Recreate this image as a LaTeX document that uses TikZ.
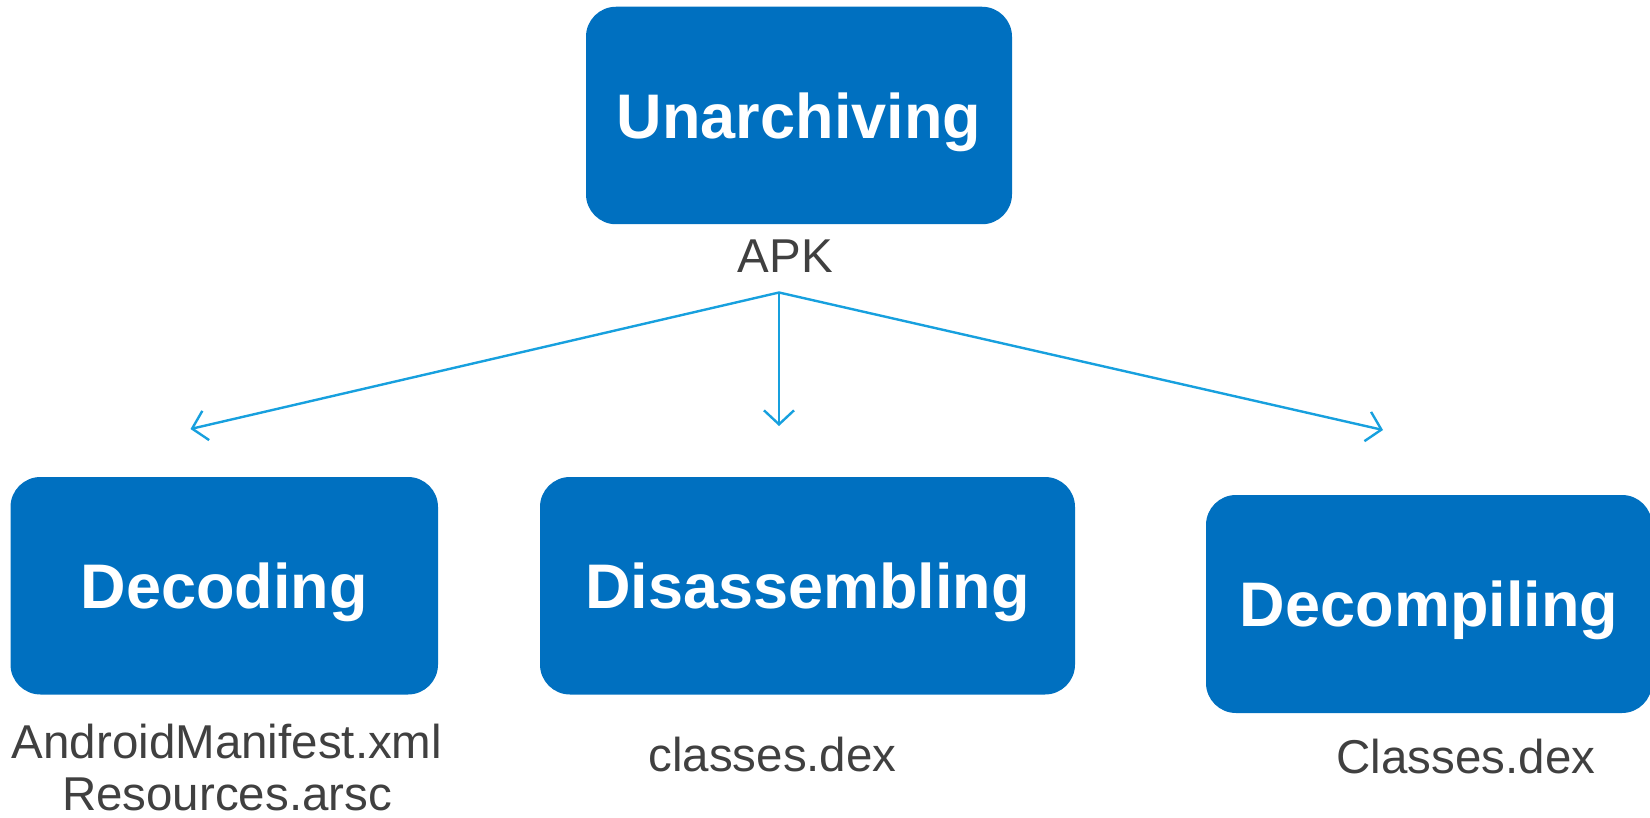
\documentclass[tikz,border=0pt]{standalone}
\usepackage{fontspec}
\setmainfont{Liberation Sans}
\usetikzlibrary{arrows.meta}
\definecolor{boxblue}{HTML}{0070C0}
\definecolor{arrowblue}{HTML}{17A0DE}
\definecolor{labelgray}{HTML}{404040}
\begin{document}
\begin{tikzpicture}[x=0.5pt,y=-0.5pt,
  stage/.style={fill=boxblue, rounded corners=15pt, text=white, inner sep=0pt,
    font=\fontsize{31.5}{36}\selectfont\bfseries, minimum height=108.75pt,
    text height=22.6pt, text depth=0pt},
  lbl/.style={text=labelgray, inner sep=0pt, anchor=base,
    font=\fontsize{23.75}{26}\selectfont},
  flow/.style={draw=arrowblue, line width=1.2pt,
    -{Straight Barb[length=7pt,width=15pt,line width=1.2pt]}}
]
\useasboundingbox (0,0) rectangle (1650,818);
\node[stage, minimum width=213pt] (unarch) at (799,115.5) {Unarchiving};
\node[stage, minimum width=213.75pt] (decod) at (224.25,585.75) {Decoding};
\node[stage, minimum width=267.5pt] (disas) at (807.5,585.75) {Disassembling};
\node[stage, minimum width=223pt, minimum height=109pt] (decomp) at (1429,604) {Decompiling};

\node[lbl] (apk) at (785.5,273) {APK};
\node[lbl] (manif) at (227,758) {AndroidManifest.xml};
\node[lbl] (res) at (227,810) {Resources.arsc};
\node[lbl] (cdex) at (772.5,771) {classes.dex};
\node[lbl] (Cdex) at (1466,773) {Classes.dex};

\coordinate (src) at (779,292.5);
\coordinate (tl) at (190.5,429);
\coordinate (tm) at (779,426);
\coordinate (tr) at (1383,430);
\draw[flow] (src) -- (tl);
\draw[flow] (src) -- (tm);
\draw[flow] (src) -- (tr);
\end{tikzpicture}
\end{document}
